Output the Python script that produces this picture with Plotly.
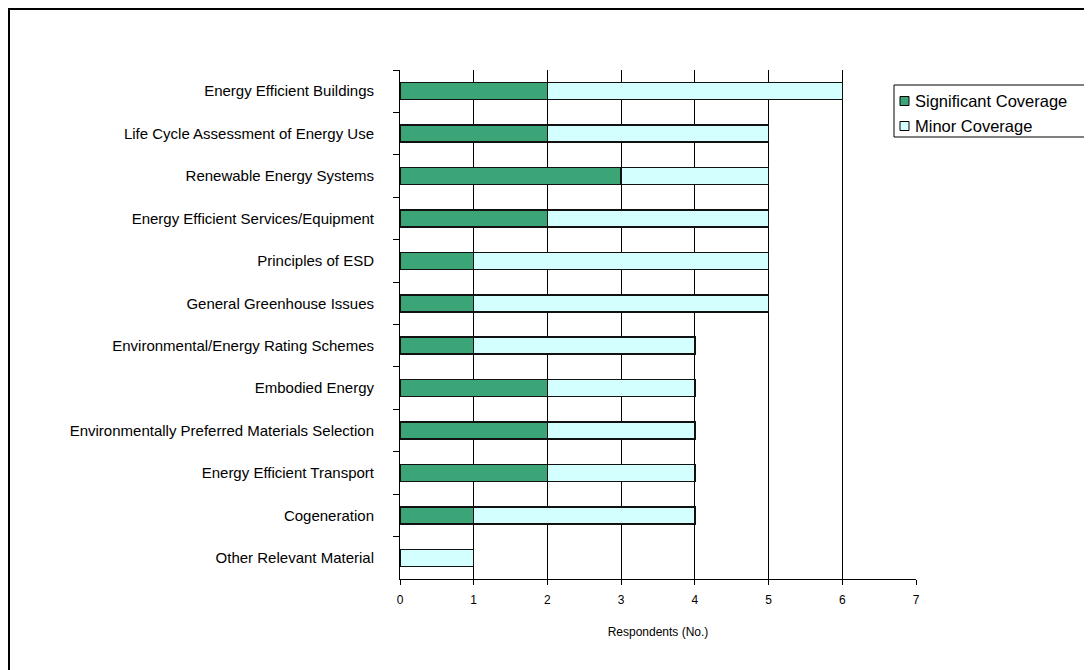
import plotly.graph_objects as go

categories = [
    "Energy Efficient Buildings",
    "Life Cycle Assessment of Energy Use",
    "Renewable Energy Systems",
    "Energy Efficient Services/Equipment",
    "Principles of ESD",
    "General Greenhouse Issues",
    "Environmental/Energy Rating Schemes",
    "Embodied Energy",
    "Environmentally Preferred Materials Selection",
    "Energy Efficient Transport",
    "Cogeneration",
    "Other Relevant Material",
]
significant = [2, 2, 3, 2, 1, 1, 1, 2, 2, 2, 1, 0]
minor = [4, 3, 2, 3, 4, 4, 3, 2, 2, 2, 3, 1]
x_ticks = [0, 1, 2, 3, 4, 5, 6, 7]
series_names = ["Significant Coverage", "Minor Coverage"]
series_colors = ["#3BA578", "#D4FFFF"]

OFF = 8  # page body margin
W, H = 1084, 662
L, R, T, B = 392, 176, 62, 91
pw, ph = W - L - R, H - T - B


def px_x(p):
    """page x pixel -> paper x"""
    return (p - OFF - L) / pw


def px_y(p):
    """page y pixel -> paper y"""
    return (H - B - (p - OFF)) / ph


fig = go.Figure()
for vals, name, col in zip([significant, minor], series_names, series_colors):
    fig.add_trace(go.Bar(
        y=categories, x=vals, orientation="h", name=name,
        marker=dict(color=col, line=dict(color="#111111", width=1.5)),
    ))

shapes = [
    dict(type="line", xref="paper", yref="paper",
         x0=px_x(8), x1=px_x(1100), y0=px_y(9), y1=px_y(9),
         line=dict(color="#000000", width=2)),
    dict(type="line", xref="paper", yref="paper",
         x0=px_x(9), x1=px_x(9), y0=px_y(9), y1=px_y(690),
         line=dict(color="#000000", width=2)),
    # legend box
    dict(type="rect", xref="paper", yref="paper",
         x0=px_x(894), x1=px_x(1089), y0=px_y(85), y1=px_y(137),
         line=dict(color="#000000", width=1), fillcolor="white", layer="above"),
]
annotations = []
for i, (name, col) in enumerate(zip(series_names, series_colors)):
    cy = 101 + 25 * i
    shapes.append(dict(type="rect", xref="paper", yref="paper",
                       x0=px_x(900), x1=px_x(909), y0=px_y(cy - 4.5), y1=px_y(cy + 4.5),
                       line=dict(color="#000000", width=1), fillcolor=col, layer="above"))
    annotations.append(dict(xref="paper", yref="paper", x=px_x(913), y=px_y(cy),
                            xanchor="left", yanchor="middle", text=name, showarrow=False,
                            font=dict(size=16.5, color="#000000")))

fig.update_layout(
    barmode="stack",
    bargap=0.6,
    showlegend=False,
    width=W, height=H,
    margin=dict(l=L, r=R, t=T, b=B, autoexpand=False),
    paper_bgcolor="white",
    plot_bgcolor="white",
    font=dict(family="Liberation Sans, Arial, sans-serif", color="#000000"),
    xaxis=dict(
        range=[0, 7], tickvals=x_ticks, ticktext=[str(v) for v in x_ticks],
        showgrid=True, gridcolor="#000000", gridwidth=1,
        showline=True, linecolor="#000000", linewidth=1,
        ticks="outside", ticklen=5, tickcolor="#000000",
        tickfont=dict(size=12), zeroline=False, ticklabelstandoff=5,
        title=dict(text="Respondents (No.)", font=dict(size=12), standoff=21),
    ),
    yaxis=dict(
        autorange="reversed", type="category",
        showline=True, linecolor="#000000", linewidth=1,
        ticks="outside", ticklen=6, tickcolor="#000000", tickson="boundaries",
        tickfont=dict(size=15), ticklabelstandoff=22,
        showgrid=False,
    ),
    shapes=shapes,
    annotations=annotations,
)

fig.write_html("out.html")
